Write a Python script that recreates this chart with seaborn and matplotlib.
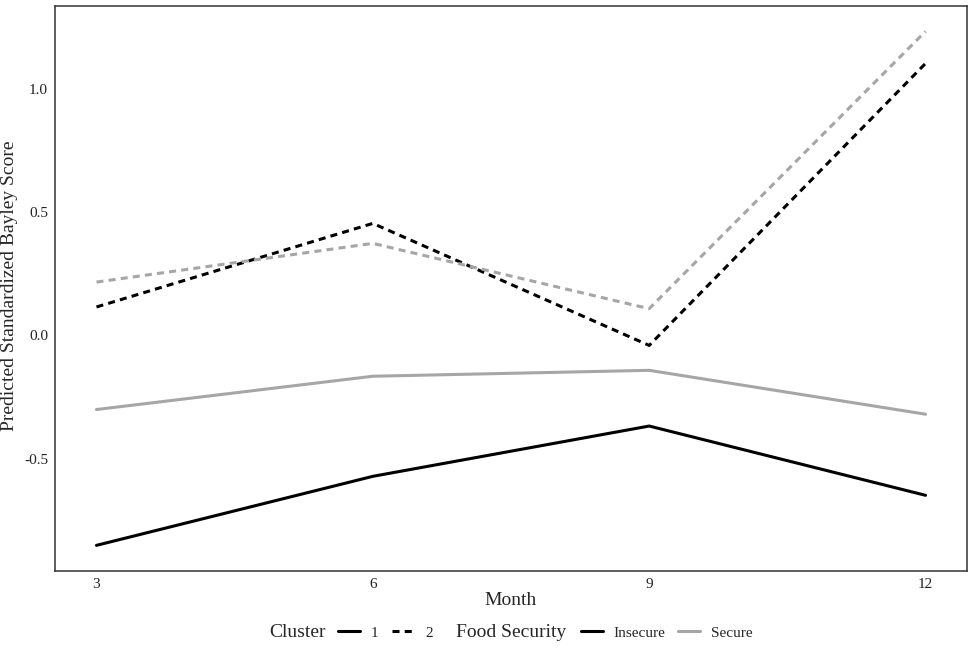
import numpy as np
import pandas as pd
import matplotlib
matplotlib.use("Agg")
import matplotlib.pyplot as plt
import seaborn as sns
from matplotlib.lines import Line2D

sns.set_style("white")
plt.rcParams['font.family'] = ['Liberation Serif', 'DejaVu Serif']

# data
months = [3, 6, 9, 12]
c1_insecure = [-0.852, -0.572, -0.368, -0.649]
c1_secure = [-0.301, -0.166, -0.142, -0.320]
c2_insecure = [0.115, 0.454, -0.041, 1.103]
c2_secure = [0.216, 0.373, 0.108, 1.233]

df = pd.concat([
    pd.DataFrame({'Month': months, 'Score': c1_insecure, 'Cluster': '1', 'Food Security': 'Insecure'}),
    pd.DataFrame({'Month': months, 'Score': c1_secure, 'Cluster': '1', 'Food Security': 'Secure'}),
    pd.DataFrame({'Month': months, 'Score': c2_insecure, 'Cluster': '2', 'Food Security': 'Insecure'}),
    pd.DataFrame({'Month': months, 'Score': c2_secure, 'Cluster': '2', 'Food Security': 'Secure'}),
])

pal = {'Insecure': 'black', 'Secure': '#a6a6a6'}
dash = {'1': '', '2': (2.3, 1.7)}

fig = plt.figure(figsize=(9.74, 6.51), dpi=100)
ax = fig.add_axes([0.0565, 0.1229, 0.9363, 0.8683])

sns.lineplot(data=df, x='Month', y='Score', hue='Food Security', style='Cluster',
             palette=pal, dashes=dash, linewidth=2.2, legend=False, ax=ax)

ax.set_xlim(2.55, 12.45)
ax.set_ylim(-0.956, 1.337)
ax.set_xticks([3, 6, 9, 12])
ax.set_yticks([-0.5, 0.0, 0.5, 1.0])
ax.set_yticklabels(['-0.5', '0.0', '0.5', '1.0'])
ax.tick_params(length=0, labelsize=11, pad=5, colors='#222222')
ax.set_xlabel('Month', fontsize=14, labelpad=1)
ax.set_ylabel('Predicted Standardized Bayley Score', fontsize=14)
ax.yaxis.set_label_coords(-0.041, 0.505)
for s in ax.spines.values():
    s.set_color('#333333')
    s.set_linewidth(1.1)

# bottom legend: two groups, title on the left of each
ly = 0.028
fig.text(269 / 974, ly, 'Cluster', fontsize=14, ha='left', va='center')
fig.text(456 / 974, ly, 'Food Security', fontsize=14, ha='left', va='center')

h1 = [Line2D([], [], color='black', lw=2.2),
      Line2D([], [], color='black', lw=2.2, dashes=(2.3, 1.7))]
fig.legend(h1, ['1', '2'], loc='center left', bbox_to_anchor=(338 / 974, ly),
           ncol=2, frameon=False, fontsize=11, handlelength=1.45,
           handletextpad=0.7, columnspacing=0.9, borderpad=0, borderaxespad=0)
h2 = [Line2D([], [], color='black', lw=2.2),
      Line2D([], [], color='#a6a6a6', lw=2.2)]
fig.legend(h2, ['Insecure', 'Secure'], loc='center left', bbox_to_anchor=(581 / 974, ly),
           ncol=2, frameon=False, fontsize=11, handlelength=1.45,
           handletextpad=0.7, columnspacing=0.8, borderpad=0, borderaxespad=0)

fig.savefig('out.png', dpi=100)
